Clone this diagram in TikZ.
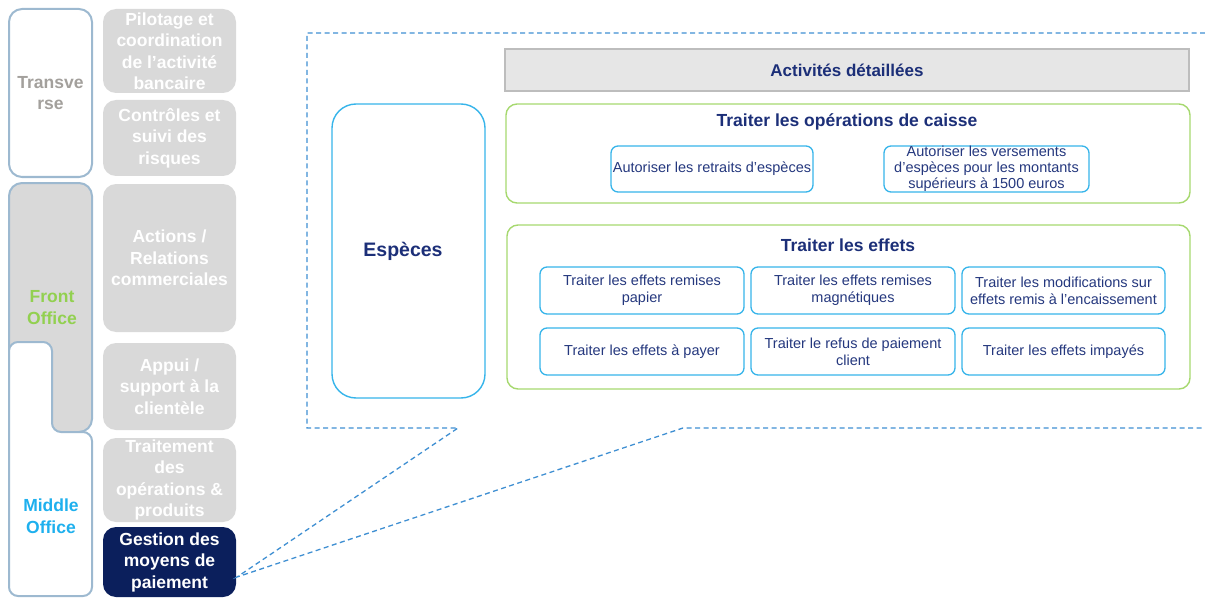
\documentclass[tikz,border=0pt]{standalone}
\usepackage{fontspec}
\setmainfont{Liberation Sans}
\definecolor{boxgray}{HTML}{D9D9D9}
\definecolor{outl}{HTML}{9DB9D0}
\definecolor{transtxt}{HTML}{A3A09C}
\definecolor{frontgreen}{HTML}{92D050}
\definecolor{midcyan}{HTML}{1EB0EE}
\definecolor{gestnavy}{HTML}{0B1F5C}
\definecolor{dashblue}{HTML}{3F8FD2}
\definecolor{hdrfill}{HTML}{E6E6E6}
\definecolor{hdrline}{HTML}{BDBDBD}
\definecolor{navy}{HTML}{1C2F78}
\definecolor{innertxt}{HTML}{25387E}
\definecolor{cyanline}{HTML}{36B4EA}
\definecolor{grpgreen}{HTML}{A6D86E}
\begin{document}
\begin{tikzpicture}[x=1pt,y=-1pt,
  lcfont/.style={font=\fontsize{17.5}{21.5}\selectfont\bfseries},
  graybox/.style={draw=none, fill=boxgray, rounded corners=13pt, text=white, align=center, inner sep=0pt, lcfont},
  outline/.style={draw=outl, line width=2pt},
  sidetext/.style={align=center, inner sep=0pt, lcfont},
  dashline/.style={draw=dashblue, line width=1.3pt, dash pattern=on 5pt off 3.5pt},
  grpbox/.style={draw=grpgreen, line width=1.4pt, rounded corners=11pt, inner sep=0pt},
  grptitle/.style={text=navy, font=\fontsize{17.5}{20}\selectfont\bfseries, inner sep=0pt},
  actbox/.style={draw=cyanline, line width=1.3pt, rounded corners=7pt, fill=white, text=innertxt, align=center, inner sep=0pt, font=\fontsize{14.5}{17}\selectfont},
]
\useasboundingbox (0,0) rectangle (1205,599);

% ---------- left column ----------
\node[outline, fill=white, rounded corners=13pt, minimum width=83pt, minimum height=168pt, inner sep=0pt] (trans) at (50.5,93) {};
\node[sidetext, text=transtxt] (transtxt) at (50.5,93) {Transve\\rse};

\node[outline, fill=boxgray, rounded corners=13pt, minimum width=83pt, minimum height=249pt, inner sep=0pt] (front) at (50.5,307.5) {};
\node[sidetext, text=frontgreen] (fronttxt) at (52,307.5) {Front\\Office};

\draw[outline, fill=white, rounded corners=9pt] (9,596) -- (9,342) -- (52,342) -- (52,432) -- (92,432) -- (92,596) -- cycle;
\node[sidetext, text=midcyan] (midtxt) at (51,516) {Middle\\Office};

% ---------- second column ----------
\node[graybox, minimum width=133pt, minimum height=84pt] (pil) at (169.5,51) {Pilotage et\\coordination\\de l’activité\\bancaire};
\node[graybox, minimum width=133pt, minimum height=76pt] (ctrl) at (169.5,138) {Contrôles et\\suivi des\\risques};
\node[graybox, minimum width=133pt, minimum height=148pt] (act) at (169.5,258) {Actions /\\Relations\\commerciales};
\node[graybox, minimum width=133pt, minimum height=87pt] (app) at (169.5,386.5) {Appui /\\support à la\\clientèle};
\node[graybox, minimum width=133pt, minimum height=84pt] (trt) at (169.5,480) {Traitement\\des\\opérations \&\\produits};
\node[graybox, fill=gestnavy, minimum width=133pt, minimum height=70pt] (gest) at (169.5,562) {Gestion des\\moyens de\\paiement};

% ---------- dashed zoom frame ----------
\coordinate (apex) at (237,577);
\coordinate (ftr) at (1205,33);
\coordinate (ftl) at (307,33);
\coordinate (fbl) at (307,428);
\coordinate (fb1) at (458,428);
\coordinate (fb2) at (683,428);
\coordinate (fbr) at (1205,428);
\draw[dashline] (ftr) -- (ftl) -- (fbl) -- (fb1) -- (apex) -- (fb2) -- (fbr);

% ---------- detail panel ----------
\node[draw=hdrline, fill=hdrfill, line width=1.2pt, minimum width=684pt, minimum height=42pt, inner sep=0pt, text=navy, font=\fontsize{17}{20}\selectfont\bfseries] (hdr) at (847,70) {Activités détaillées};

\node[draw=cyanline, line width=1.4pt, rounded corners=24pt, minimum width=153pt, minimum height=294pt, inner sep=0pt] (esp) at (408.5,251) {};
\node[text=navy, inner sep=0pt, font=\fontsize{19.5}{22}\selectfont\bfseries] (esptxt) at (403,251) {Espèces};

\node[grpbox, minimum width=684pt, minimum height=99pt] (g1) at (848,153.5) {};
\node[grptitle] (g1t) at (847,121.5) {Traiter les opérations de caisse};
\node[actbox, minimum width=202pt, minimum height=46pt] (a1) at (712,169) {Autoriser les retraits d’espèces};
\node[actbox, minimum width=205pt, minimum height=46pt, font=\fontsize{14.5}{16}\selectfont] (a2) at (986.5,169) {Autoriser les versements\\d’espèces pour les montants\\supérieurs à 1500 euros};

\node[grpbox, minimum width=683pt, minimum height=164pt] (g2) at (848.5,307) {};
\node[grptitle] (g2t) at (848,245.5) {Traiter les effets};
\node[actbox, minimum width=204pt, minimum height=47pt] (e1) at (642,290.5) {Traiter les effets remises\\papier};
\node[actbox, minimum width=204pt, minimum height=47pt] (e2) at (853,290.5) {Traiter les effets remises\\magnétiques};
\node[actbox, minimum width=203pt, minimum height=47pt] (e3) at (1063.5,290.5) {Traiter les modifications sur\\effets remis à l’encaissement};
\node[actbox, minimum width=204pt, minimum height=47pt] (e4) at (642,351.5) {Traiter les effets à payer};
\node[actbox, minimum width=204pt, minimum height=47pt] (e5) at (853,351.5) {Traiter le refus de paiement\\client};
\node[actbox, minimum width=203pt, minimum height=47pt] (e6) at (1063.5,351.5) {Traiter les effets impayés};
\end{tikzpicture}
\end{document}
